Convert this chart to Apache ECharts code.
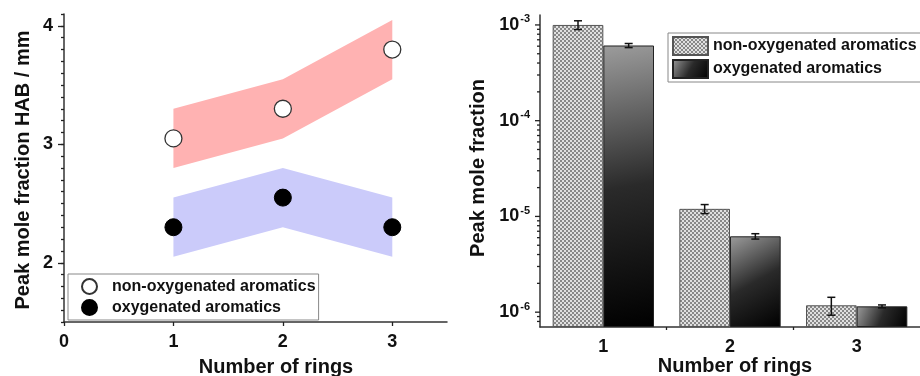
<!DOCTYPE html>
<html><head><meta charset="utf-8">
<script src="https://cdn.jsdelivr.net/npm/echarts@6/dist/echarts.min.js"></script>
<style>html,body{margin:0;padding:0;background:#fff}#c{width:920px;height:376px}</style>
</head><body><div id="c"></div>
<script>
// ---------- Left panel: peak-position HAB ----------
const ringsX = [1, 2, 3];
const nonOxyHAB = [3.05, 3.3, 3.8];
const nonOxyHABLow = [2.8, 3.05, 3.55];
const nonOxyHABHigh = [3.3, 3.55, 4.05];
const oxyHAB = [2.3, 2.55, 2.3];
const oxyHABLow = [2.05, 2.3, 2.05];
const oxyHABHigh = [2.55, 2.8, 2.55];
const habMajorTicks = [2, 3, 4];
const ringTicks = [0, 1, 2, 3];

// ---------- Right panel: peak mole fractions ----------
const ringCategories = ['1', '2', '3'];
const nonOxyPeak = [1.0e-3, 1.2e-5, 1.18e-6];
const nonOxyErr = [1.05e-4, 1.3e-6, 2.5e-7];
const oxyPeak = [6.1e-4, 6.2e-6, 1.15e-6];
const oxyErr = [3e-5, 4e-7, 4e-8];
const logDecades = [1e-7, 1e-6, 1e-5, 1e-4, 1e-3];
const logMinorMultipliers = [2, 3, 4, 5, 6, 7, 8, 9];
const boundaryTicks = [1.5, 2.5];

const seriesNames = ['non-oxygenated aromatics', 'oxygenated aromatics'];

const FONT = '"Liberation Sans", Arial, sans-serif';
const INK = '#111';
const AX = { lineStyle: { color: '#333', width: 1.5 } };
const TICK = { color: '#222', width: 1.3 };
const LOG_MIN = 7e-7, LOG_MAX = 1.27e-3;

function checker(c1, c2, s) {
  const cv = document.createElement('canvas');
  cv.width = cv.height = 2 * s;
  const ctx = cv.getContext('2d');
  ctx.fillStyle = c1; ctx.fillRect(0, 0, 2 * s, 2 * s);
  ctx.fillStyle = c2; ctx.fillRect(0, 0, s, s); ctx.fillRect(s, s, s, s);
  return cv;
}
const nonOxyFill = { image: checker('#e0e0e0', '#888888', 2), repeat: 'repeat' };
const oxyFill = {
  type: 'linear', x: 0, y: 0, x2: 1, y2: 1,
  colorStops: [{ offset: 0, color: '#9c9c9c' }, { offset: 0.5, color: '#2a2a2a' }, { offset: 1, color: '#000' }]
};

function bandRender(low, high, color) {
  return function (params, api) {
    const pts = [];
    ringsX.forEach((x, i) => pts.push(api.coord([x, high[i]])));
    for (let i = ringsX.length - 1; i >= 0; i--) pts.push(api.coord([ringsX[i], low[i]]));
    return { type: 'polygon', shape: { points: pts }, style: { fill: color } };
  };
}

function errRender(errs, side) {
  return function (params, api) {
    const i = params.dataIndex;
    const cat = api.value(0), v = api.value(1), e = errs[i];
    const bw = api.size([1, 1], [cat, v])[0];
    const top = api.coord([cat, v + e]);
    const bot = api.coord([cat, v - e]);
    const cx = top[0] + side * bw * 0.2;
    const cap = 4, st = { stroke: '#111', lineWidth: 1.5 };
    return { type: 'group', children: [
      { type: 'line', shape: { x1: cx, y1: top[1], x2: cx, y2: bot[1] }, style: st },
      { type: 'line', shape: { x1: cx - cap, y1: top[1], x2: cx + cap, y2: top[1] }, style: st },
      { type: 'line', shape: { x1: cx - cap, y1: bot[1], x2: cx + cap, y2: bot[1] }, style: st }
    ] };
  };
}

const logTickData = [];
logDecades.forEach(d => {
  if (d > LOG_MIN && d < LOG_MAX) logTickData.push([0, d, 1]);
  logMinorMultipliers.forEach(m => {
    const v = d * m;
    if (v > LOG_MIN && v < LOG_MAX) logTickData.push([0, v, 0]);
  });
});

const axisLabelStyle = { fontSize: 18, fontWeight: 'bold', color: INK, fontFamily: FONT };

const option = {
  animation: false,
  backgroundColor: '#fff',
  grid: [
    { left: 64, right: 473, top: 14, bottom: 54 },
    { left: 540, right: -8.5, top: 15, bottom: 49 }
  ],
  xAxis: [
    { type: 'value', gridIndex: 0, position: 'bottom', min: 0, max: 3.5, interval: 0.5,
      axisLine: AX, splitLine: { show: false },
      axisTick: { customValues: ringTicks, length: 4, lineStyle: TICK },
      axisLabel: Object.assign({ customValues: ringTicks, margin: 11 }, axisLabelStyle) },
    { type: 'category', gridIndex: 1, position: 'bottom', data: ringCategories, boundaryGap: true,
      axisLine: AX,
      axisTick: { alignWithLabel: true, length: 4, lineStyle: TICK },
      axisLabel: Object.assign({ margin: 11 }, axisLabelStyle) },
    { type: 'value', gridIndex: 1, position: 'bottom', min: 0.5, max: 3.5, interval: 0.5,
      axisLine: { show: false }, splitLine: { show: false }, axisLabel: { show: false },
      axisTick: { customValues: boundaryTicks, length: 3, lineStyle: TICK } }
  ],
  yAxis: [
    { type: 'value', gridIndex: 0, position: 'left', min: 1.5, max: 4.1, interval: 0.1,
      axisLine: { show: true, lineStyle: { color: '#333', width: 1.5 } }, splitLine: { show: false },
      axisTick: { show: true, length: 3, lineStyle: TICK },
      axisLabel: Object.assign({ customValues: habMajorTicks, margin: 11 }, axisLabelStyle) },
    { type: 'value', gridIndex: 0, position: 'left', offset: 0, min: 1.5, max: 4.1, interval: 0.1,
      axisLine: { show: false }, splitLine: { show: false }, axisLabel: { show: false },
      axisTick: { show: true, customValues: habMajorTicks, length: 6, lineStyle: TICK } },
    { type: 'log', gridIndex: 1, position: 'left', logBase: 10, min: LOG_MIN, max: LOG_MAX, startValue: LOG_MIN,
      axisLine: { show: true, lineStyle: { color: '#333', width: 1.5 } }, splitLine: { show: false },
      axisTick: { show: false },
      axisLabel: {
        showMinLabel: false, showMaxLabel: false, margin: 10,
        formatter: v => '{b|10}{s|' + Math.round(Math.log10(v)) + '}',
        rich: {
          b: { fontSize: 18, fontWeight: 'bold', color: INK, fontFamily: FONT, lineHeight: 22 },
          s: { fontSize: 11, fontWeight: 'bold', color: INK, fontFamily: FONT, verticalAlign: 'top', lineHeight: 22, padding: [0, 0, 10, 1] }
        }
      } }
  ],
  legend: [
    { data: seriesNames.map(n => 'L:' + n), formatter: n => n.slice(2), orient: 'vertical',
      left: 68, top: 274, itemWidth: 15, itemHeight: 15, itemGap: 4, padding: [4, 3, 4, 13],
      borderColor: '#888', borderWidth: 1, selectedMode: false, icon: 'circle',
      textStyle: { fontSize: 16, fontWeight: 'bold', color: INK, fontFamily: FONT, padding: [0, 0, 0, 10] } },
    { data: seriesNames.map(n => 'R:' + n), formatter: n => n.slice(2), orient: 'vertical',
      left: 668, top: 33, itemWidth: 35, itemHeight: 18, itemGap: 3, padding: [3, 8, 3, 4],
      borderColor: '#888', borderWidth: 1, selectedMode: false, icon: 'rect',
      textStyle: { fontSize: 16, fontWeight: 'bold', color: INK, fontFamily: FONT } }
  ],
  graphic: [
    { type: 'text', x: 23, y: 170, rotation: Math.PI / 2,
      style: { text: 'Peak mole fraction HAB / mm', fontSize: 20, fontWeight: 'bold', fontFamily: FONT, fill: INK, align: 'center', verticalAlign: 'middle' } },
    { type: 'text', x: 276, y: 367,
      style: { text: 'Number of rings', fontSize: 20, fontWeight: 'bold', fontFamily: FONT, fill: INK, align: 'center', verticalAlign: 'middle' } },
    { type: 'text', x: 478, y: 168, rotation: Math.PI / 2,
      style: { text: 'Peak mole fraction', fontSize: 20, fontWeight: 'bold', fontFamily: FONT, fill: INK, align: 'center', verticalAlign: 'middle' } },
    { type: 'text', x: 735, y: 366,
      style: { text: 'Number of rings', fontSize: 20, fontWeight: 'bold', fontFamily: FONT, fill: INK, align: 'center', verticalAlign: 'middle' } }
  ],
  series: [
    { type: 'custom', xAxisIndex: 0, yAxisIndex: 0, z: 1, silent: true, clip: false,
      renderItem: bandRender(nonOxyHABLow, nonOxyHABHigh, '#ffb2b2'), data: [[ringsX[0], nonOxyHABLow[0]]] },
    { type: 'custom', xAxisIndex: 0, yAxisIndex: 0, z: 1, silent: true, clip: false,
      renderItem: bandRender(oxyHABLow, oxyHABHigh, '#cbcbfa'), data: [[ringsX[0], oxyHABLow[0]]] },
    { type: 'scatter', name: 'L:' + seriesNames[0], xAxisIndex: 0, yAxisIndex: 0, symbol: 'circle', symbolSize: 17, z: 5,
      itemStyle: { color: '#fff', borderColor: '#333', borderWidth: 1.3, opacity: 1 },
      data: ringsX.map((x, i) => [x, nonOxyHAB[i]]) },
    { type: 'scatter', name: 'L:' + seriesNames[1], xAxisIndex: 0, yAxisIndex: 0, symbol: 'circle', symbolSize: 17, z: 5,
      itemStyle: { color: '#000', borderColor: '#000', borderWidth: 1, opacity: 1 },
      data: ringsX.map((x, i) => [x, oxyHAB[i]]) },
    { type: 'bar', name: 'R:' + seriesNames[0], xAxisIndex: 1, yAxisIndex: 2, barWidth: '40%', barGap: 0,
      itemStyle: { color: nonOxyFill, borderColor: '#555', borderWidth: 1 },
      data: nonOxyPeak },
    { type: 'bar', name: 'R:' + seriesNames[1], xAxisIndex: 1, yAxisIndex: 2, barWidth: '40%', barGap: 0,
      itemStyle: { color: oxyFill, borderColor: '#222', borderWidth: 1 },
      data: oxyPeak },
    { type: 'custom', xAxisIndex: 1, yAxisIndex: 2, z: 10, silent: true,
      renderItem: errRender(nonOxyErr, -1), data: ringCategories.map((c, i) => [i, nonOxyPeak[i]]) },
    { type: 'custom', xAxisIndex: 1, yAxisIndex: 2, z: 10, silent: true,
      renderItem: errRender(oxyErr, 1), data: ringCategories.map((c, i) => [i, oxyPeak[i]]) },
    { type: 'custom', xAxisIndex: 1, yAxisIndex: 2, z: 10, silent: true, clip: false,
      renderItem: function (params, api) {
        const y = api.coord([0, api.value(1)])[1];
        const x = params.coordSys.x;
        const len = api.value(2) ? 5 : 3;
        return { type: 'line', shape: { x1: x - len, y1: y, x2: x, y2: y }, style: { stroke: '#222', lineWidth: 1.3 } };
      },
      data: logTickData }
  ]
};
echarts.init(document.getElementById('c')).setOption(option);
</script>
</body></html>
